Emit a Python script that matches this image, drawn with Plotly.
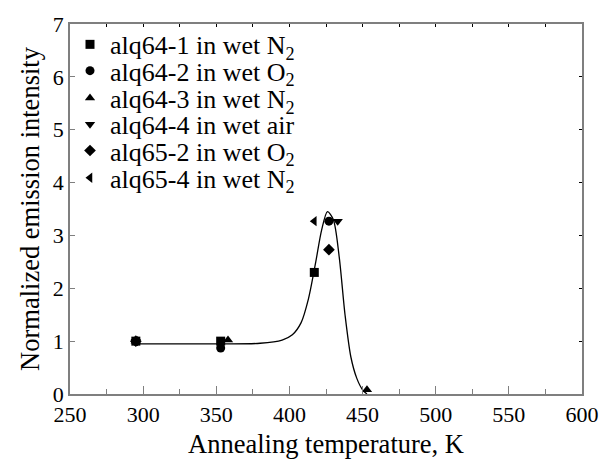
import plotly.graph_objects as go

# ---- data ----
series_names = [
    "alq64-1 in wet N<sub>2</sub>",
    "alq64-2 in wet O<sub>2</sub>",
    "alq64-3 in wet N<sub>2</sub>",
    "alq64-4 in wet air",
    "alq65-2 in wet O<sub>2</sub>",
    "alq65-4 in wet N<sub>2</sub>",
]
series_symbols = ["square", "circle", "triangle-up", "triangle-down", "diamond", "triangle-left"]

alq64_1_T = [295, 353, 417]
alq64_1_I = [1.0, 1.0, 2.3]
alq64_2_T = [295, 353, 427]
alq64_2_I = [1.0, 0.87, 3.27]
alq64_3_T = [295, 358, 453]
alq64_3_I = [1.0, 1.02, 0.08]
alq64_4_T = [295, 433]
alq64_4_I = [1.0, 3.27]
alq65_2_T = [295, 427]
alq65_2_I = [1.0, 2.73]
alq65_4_T = [295, 417]
alq65_4_I = [1.0, 3.27]

series_T = [alq64_1_T, alq64_2_T, alq64_3_T, alq64_4_T, alq65_2_T, alq65_4_T]
series_I = [alq64_1_I, alq64_2_I, alq64_3_I, alq64_4_I, alq65_2_I, alq65_4_I]

# guide curve
curve_T = [295, 350, 380, 395, 402, 408, 413, 418, 422, 426, 430, 434, 438, 442, 446, 450, 453]
curve_I = [0.95, 0.95, 0.96, 1.02, 1.12, 1.35, 1.8, 2.5, 3.1, 3.45, 3.3, 2.6, 1.5, 0.7, 0.3, 0.08, 0.0]

x_ticks = [250, 300, 350, 400, 450, 500, 550, 600]
y_ticks = [0, 1, 2, 3, 4, 5, 6, 7]

FONT = "Times New Roman, Liberation Serif, serif"

# plot area geometry (pixels)
W, H = 611, 466
ML, MR, MT, MB = 70, 20, 18, 68
plot_h = H - MT - MB
legend_centers_px = [39, 66, 94, 121, 148, 176]

fig = go.Figure()
fig.add_trace(go.Scatter(x=curve_T, y=curve_I, mode="lines",
                         line=dict(color="black", width=1.3, shape="spline", smoothing=0.8),
                         showlegend=False, hoverinfo="skip", cliponaxis=False))
for k, (name, sym, T, I) in enumerate(zip(series_names, series_symbols, series_T, series_I)):
    lg = "legend" if k == 0 else f"legend{k + 1}"
    fig.add_trace(go.Scatter(x=T, y=I, mode="markers", name=name, legend=lg,
                             marker=dict(symbol=sym, size=9, color="black"),
                             cliponaxis=False))

# invisible trace to activate the mirror axes
fig.add_trace(go.Scatter(x=[250], y=[0], xaxis="x2", yaxis="y2", mode="markers",
                         marker=dict(opacity=0), showlegend=False, hoverinfo="skip"))

legends = {}
for k, cy in enumerate(legend_centers_px):
    key = "legend" if k == 0 else f"legend{k + 1}"
    legends[key] = dict(x=0.0, y=(H - MB - cy) / plot_h, xanchor="left", yanchor="middle",
                        bgcolor="rgba(0,0,0,0)", font=dict(family=FONT, size=26, color="black"),
                        itemwidth=30, borderwidth=0)

axis_col = "#7f7f7f"
title_font = dict(family=FONT, size=26.5, color="black")
fig.update_layout(
    width=W, height=H,
    margin=dict(l=ML, r=MR, t=MT, b=MB),
    paper_bgcolor="white", plot_bgcolor="white",
    font=dict(family=FONT, size=22, color="black"),
    showlegend=True,
    xaxis=dict(range=[250, 600], tickvals=x_ticks, ticks="inside", ticklen=8,
               tickcolor=axis_col, tickwidth=1.2,
               minor=dict(ticks="inside", ticklen=5, dtick=25, tick0=250, tickcolor=axis_col),
               showline=True, linecolor=axis_col, linewidth=1.5, mirror=True,
               showgrid=False, zeroline=False,
               title=dict(text="Annealing temperature, K", standoff=8, font=title_font),
               tickfont=dict(family=FONT, size=22, color="black")),
    yaxis=dict(range=[0, 7], tickvals=y_ticks, ticks="inside", ticklen=5,
               tickcolor=axis_col, tickwidth=1.2,
               showline=True, linecolor=axis_col, linewidth=1.5, mirror=True,
               showgrid=False, zeroline=False,
               title=dict(text="Normalized emission intensity", standoff=6, font=title_font),
               tickfont=dict(family=FONT, size=22, color="black")),
    xaxis2=dict(overlaying="x", side="top", matches="x", range=[250, 600],
                ticks="inside", ticklen=3, dtick=25, tick0=250, tickcolor="black",
                showticklabels=False, showgrid=False, zeroline=False, showline=False),
    yaxis2=dict(overlaying="y", side="right", matches="y", range=[0, 7],
                ticks="inside", ticklen=3, dtick=1, tickcolor="black",
                showticklabels=False, showgrid=False, zeroline=False, showline=False),
    **legends,
)

fig.write_html("out.html")
